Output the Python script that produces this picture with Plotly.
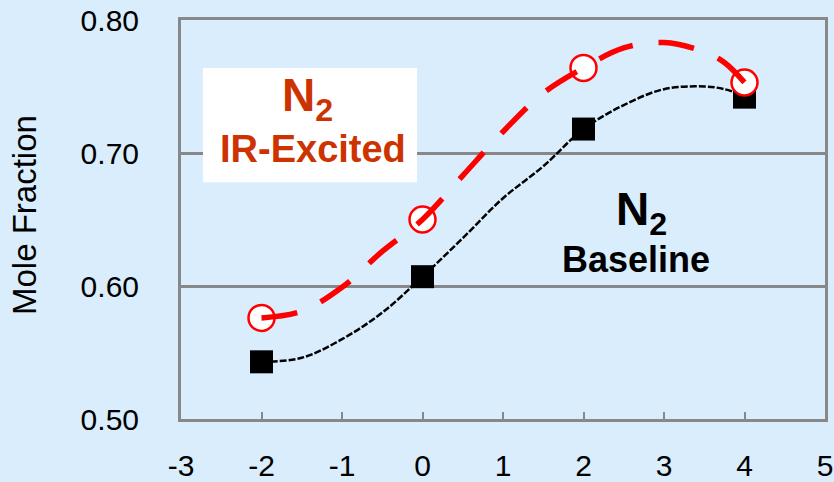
import plotly.graph_objects as go

# Measured data points
x_pts = [-2, 0, 2, 4]
baseline_pts = [0.543, 0.607, 0.718, 0.742]
excited_pts = [0.576, 0.650, 0.764, 0.753]

# Smooth fitted curves
x_curve = [-2, -1.5, -1, -0.5, 0, 0.5, 1, 1.5, 2, 2.5, 3, 3.5, 3.75, 4]
baseline_curve = [0.543, 0.546, 0.560, 0.580, 0.607, 0.636, 0.666, 0.690, 0.718, 0.736, 0.748, 0.750, 0.748, 0.743]
excited_curve = [0.576, 0.581, 0.599, 0.626, 0.650, 0.683, 0.716, 0.745, 0.764, 0.779, 0.783, 0.776, 0.768, 0.753]

x_ticks = [-3, -2, -1, 0, 1, 2, 3, 4, 5]
y_ticks = [0.50, 0.60, 0.70, 0.80]

BG = "#d9edfc"
GRAY = "#888888"
FONT = "Arial, Liberation Sans, sans-serif"

fig = go.Figure()
fig.add_trace(go.Scatter(x=x_curve, y=baseline_curve, mode="lines", line_shape="spline",
                         line=dict(color="black", width=2.5, dash="7px,2px"), hoverinfo="skip"))
fig.add_trace(go.Scatter(x=x_pts, y=baseline_pts, mode="markers",
                         marker=dict(symbol="square", size=23, color="black")))
fig.add_trace(go.Scatter(x=x_pts, y=excited_pts, mode="markers",
                         marker=dict(symbol="circle", size=26, color="white",
                                     line=dict(color="#ff0000", width=2.5))))
fig.add_trace(go.Scatter(x=x_curve, y=excited_curve, mode="lines", line_shape="spline",
                         line=dict(color="#ff0000", width=5.5, dash="36px,26px"), hoverinfo="skip"))

fig.add_shape(type="rect", xref="x", yref="y", x0=-2.727, x1=-0.068, y0=0.678, y1=0.764,
              fillcolor="white", line=dict(width=0), layer="above")

fig.add_annotation(x=-1.43, y=0.741, xref="x", yref="y", showarrow=False,
                   text="<b>N<sub>2</sub></b>", font=dict(family=FONT, size=46, color="#cc3300"))
fig.add_annotation(x=-1.36, y=0.703, xref="x", yref="y", showarrow=False,
                   text="<b>IR-Excited</b>", font=dict(family=FONT, size=38, color="#cc3300"))
fig.add_annotation(x=2.72, y=0.655, xref="x", yref="y", showarrow=False,
                   text="<b>N<sub>2</sub></b>", font=dict(family=FONT, size=46, color="black"))
fig.add_annotation(x=2.65, y=0.620, xref="x", yref="y", showarrow=False,
                   text="<b>Baseline</b>", font=dict(family=FONT, size=36, color="black"))
fig.add_annotation(x=-0.243, y=0.51, xref="paper", yref="paper", showarrow=False,
                   xanchor="center", yanchor="middle",
                   text="Mole Fraction", textangle=-90,
                   font=dict(family=FONT, size=33, color="black"))

fig.update_layout(
    width=834, height=482,
    margin=dict(l=181, r=9, t=20, b=63),
    paper_bgcolor=BG, plot_bgcolor=BG,
    showlegend=False,
    font=dict(family=FONT, size=30, color="black"),
    xaxis=dict(range=[-3, 5], tickvals=x_ticks, ticktext=[str(v) for v in x_ticks],
               showgrid=False, zeroline=False, showline=True, linecolor=GRAY, linewidth=3,
               mirror=True, ticks="inside", ticklen=7, tickwidth=2, tickcolor=GRAY,
               ticklabelstandoff=18, tickfont=dict(size=30), automargin=False),
    yaxis=dict(range=[0.5, 0.8], tickvals=y_ticks, ticktext=[f"{v:.2f}" for v in y_ticks],
               showgrid=True, gridcolor=GRAY, gridwidth=2.5, zeroline=False,
               showline=True, linecolor=GRAY, linewidth=3, mirror=True,
               ticks="", ticklabelstandoff=33, tickfont=dict(size=30), automargin=False),
)

fig.write_html(
    "out.html",
    config={"displayModeBar": False},
    post_script=f"document.body.style.margin='0';document.body.style.background='{BG}';"
                "document.body.style.overflow='hidden';",
)
